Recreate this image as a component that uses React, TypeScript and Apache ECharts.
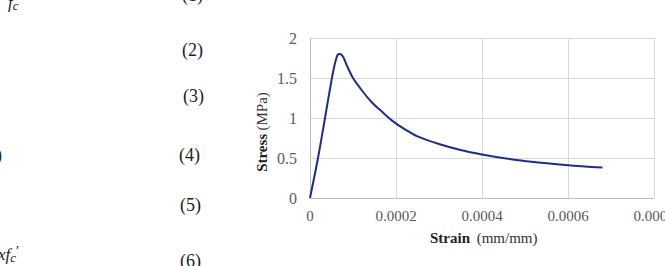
import React, { useEffect, useRef } from "react";
import * as echarts from "echarts";

const strain = [0, 0.0000186, 0.0000349, 0.00005, 0.000058, 0.0000643, 0.00007, 0.0000775, 0.0000853, 0.0001, 0.00012, 0.000143, 0.000167, 0.00019, 0.00022, 0.00025, 0.0003, 0.00035, 0.0004, 0.00048, 0.0006, 0.00068];
const stress = [0, 0.5, 1.0, 1.47, 1.68, 1.79, 1.8, 1.76, 1.66, 1.5, 1.35, 1.2, 1.08, 0.97, 0.86, 0.77, 0.675, 0.6, 0.545, 0.475, 0.41, 0.38];
const eqNumbers = ["(1)", "(2)", "(3)", "(4)", "(5)", "(6)"];
const eqY = [-3, 52, 98, 157, 207, 263];
const eqX = [182, 182, 183, 179, 180, 180];

const SERIF = "Liberation Serif";

export default function App() {
  const ref = useRef<HTMLDivElement>(null);
  useEffect(() => {
    const chart = echarts.init(ref.current!, null, { renderer: "svg" });
    const eqTexts = eqNumbers.map((t, i) => ({
      type: "text",
      left: eqX[i],
      top: eqY[i] - 11,
      style: { text: t, font: `18px ${SERIF}`, fill: "#222" },
    }));
    chart.setOption({
      animation: false,
      backgroundColor: "#fff",
      textStyle: { fontFamily: SERIF },
      grid: { left: 310, top: 38, width: 344, height: 160, containLabel: false },
      xAxis: {
        type: "value",
        min: 0,
        max: 0.0008,
        interval: 0.0002,
        axisLine: { show: true, lineStyle: { color: "#bfbfbf", width: 1 } },
        axisTick: { show: false },
        splitLine: { show: true, lineStyle: { color: "#d9d9d9", width: 1 } },
        axisLabel: {
          color: "#595959",
          fontFamily: SERIF,
          fontSize: 15,
          margin: 10,
          formatter: (v: number) => (v === 0 ? "0" : v.toFixed(4)),
        },
      },
      yAxis: {
        type: "value",
        min: 0,
        max: 2,
        interval: 0.5,
        axisLine: { show: true, lineStyle: { color: "#bfbfbf", width: 1 } },
        axisTick: { show: false },
        splitLine: { show: true, lineStyle: { color: "#d9d9d9", width: 1 } },
        axisLabel: { color: "#595959", fontFamily: SERIF, fontSize: 16, margin: 13 },
      },
      series: [
        {
          type: "line",
          data: strain.map((x, i) => [x, stress[i]]),
          showSymbol: false,
          smooth: 0.3,
          lineStyle: { color: "#1f2c88", width: 2 },
          clip: false,
        },
      ],
      graphic: [
        ...eqTexts,
        {
          type: "text",
          left: 430,
          top: 230,
          style: {
            text: "{b|Strain}  {n|(mm/mm)}",
            rich: {
              b: { fontFamily: SERIF, fontWeight: "bold", fontSize: 15, fill: "#222" },
              n: { fontFamily: SERIF, fontSize: 15, fill: "#333" },
            },
          },
        },
        {
          type: "text",
          x: 262,
          y: 132,
          rotation: Math.PI / 2,
          style: {
            text: "{b|Stress} {n|(MPa)}",
            align: "center",
            verticalAlign: "middle",
            rich: {
              b: { fontFamily: SERIF, fontWeight: "bold", fontSize: 15, fill: "#222" },
              n: { fontFamily: SERIF, fontSize: 15, fill: "#333" },
            },
          },
        },
        {
          type: "text",
          left: 8,
          top: -6,
          style: {
            text: "{f|f}{s|c}",
            rich: {
              f: { fontFamily: SERIF, fontStyle: "italic", fontSize: 17, fill: "#222" },
              s: { fontFamily: SERIF, fontStyle: "italic", fontSize: 13, fill: "#222", padding: [6, 0, 0, 0] },
            },
          },
        },
        {
          type: "text",
          left: -4,
          top: 146,
          style: { text: ")", font: `18px ${SERIF}`, fill: "#222" },
        },
        {
          type: "text",
          left: -2,
          top: 244,
          style: {
            text: "{f|xf}{s|c}{p|′}",
            rich: {
              f: { fontFamily: SERIF, fontStyle: "italic", fontSize: 17, fill: "#222" },
              s: { fontFamily: SERIF, fontStyle: "italic", fontSize: 13, fill: "#222", padding: [6, 0, 0, 0] },
              p: { fontFamily: SERIF, fontSize: 14, fill: "#222", padding: [0, 0, 6, 0] },
            },
          },
        },
      ],
    });
    return () => chart.dispose();
  }, []);
  return (
    <div style={{ position: "fixed", left: 0, top: 0, width: 665, height: 266, overflow: "hidden", background: "#fff" }}>
      <div ref={ref} style={{ width: 700, height: 266 }} />
    </div>
  );
}
